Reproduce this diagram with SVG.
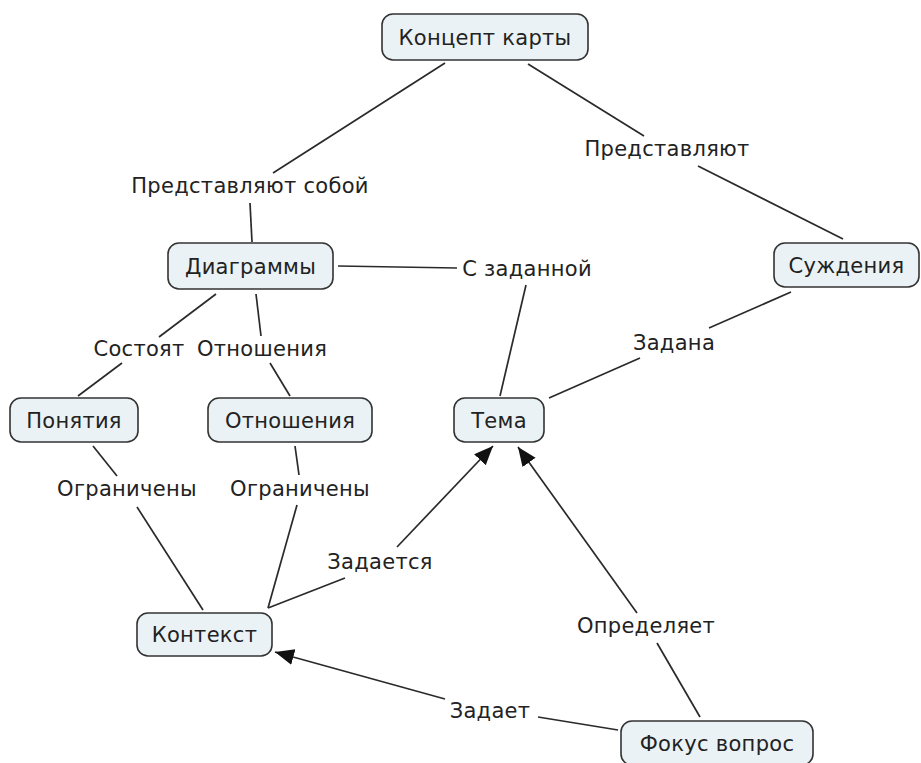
<svg xmlns="http://www.w3.org/2000/svg" width="921" height="763" viewBox="0 0 921 763">
<defs>
<style>
.node rect{fill:#ebf2f5;stroke:#333;stroke-width:1.6}
text{font-family:"DejaVu Sans","Liberation Sans",sans-serif;font-size:21px;letter-spacing:0.3px;fill:#222;text-anchor:middle}
.conn line{stroke:#2a2a2a;stroke-width:1.7}
.arrow{marker-end:url(#ah)}
</style>
<marker id="ah" markerUnits="userSpaceOnUse" markerWidth="22" markerHeight="18" refX="19" refY="8" orient="auto">
<path d="M0,0 L19,8 L0,16 z" fill="#111"/>
</marker>
</defs>
<rect width="921" height="763" fill="#fff"/>
<g id="connectors" class="conn">
<line x1="445" y1="63" x2="273" y2="173"/>
<line x1="250" y1="203" x2="252" y2="242"/>
<line x1="528" y1="64" x2="644" y2="136"/>
<line x1="698" y1="166" x2="843" y2="239"/>
<line x1="338" y1="266" x2="457" y2="268"/>
<line x1="526" y1="285" x2="500" y2="396"/>
<line x1="791" y1="292" x2="709" y2="328"/>
<line x1="640" y1="358" x2="549" y2="398"/>
<line x1="216" y1="294" x2="159" y2="337"/>
<line x1="122" y1="363" x2="78" y2="396"/>
<line x1="256" y1="294" x2="261" y2="336"/>
<line x1="270" y1="363" x2="290" y2="396"/>
<line x1="93" y1="446" x2="117" y2="476"/>
<line x1="137" y1="507" x2="203" y2="610"/>
<line x1="295" y1="446" x2="299" y2="475"/>
<line x1="297" y1="505" x2="268" y2="608"/>
<line x1="268" y1="608" x2="345" y2="578"/>
<line class="arrow" x1="397" y1="547" x2="493" y2="446"/>
<line x1="700" y1="717" x2="657" y2="643"/>
<line class="arrow" x1="637" y1="613" x2="518" y2="447"/>
<line x1="618" y1="730" x2="538" y2="717"/>
<line class="arrow" x1="445" y1="699" x2="275" y2="652"/>
</g>
<g id="labels">
<text x="250" y="193">Представляют собой</text>
<text x="667" y="156">Представляют</text>
<text x="527" y="276">С заданной</text>
<text x="139" y="356">Состоят</text>
<text x="262" y="356">Отношения</text>
<text x="674" y="350">Задана</text>
<text x="127" y="496">Ограничены</text>
<text x="300" y="496">Ограничены</text>
<text x="380" y="569">Задается</text>
<text x="646" y="633">Определяет</text>
<text x="490" y="718">Задает</text>
</g>
<g id="n1" class="node"><rect x="382" y="14" width="206" height="46" rx="11"/><text x="485" y="45">Концепт карты</text></g>
<g id="n2" class="node"><rect x="168" y="243" width="165" height="46" rx="11"/><text x="250.5" y="274">Диаграммы</text></g>
<g id="n3" class="node"><rect x="774" y="243" width="145" height="44" rx="11"/><text x="846.5" y="273">Суждения</text></g>
<g id="n4" class="node"><rect x="10" y="398" width="128" height="44" rx="11"/><text x="74" y="428">Понятия</text></g>
<g id="n5" class="node"><rect x="208" y="398" width="164" height="44" rx="11"/><text x="290" y="428">Отношения</text></g>
<g id="n6" class="node"><rect x="454" y="398" width="90" height="44" rx="11"/><text x="499" y="428">Тема</text></g>
<g id="n7" class="node"><rect x="137" y="613" width="135" height="43" rx="11"/><text x="204.5" y="642">Контекст</text></g>
<g id="n8" class="node"><rect x="621" y="721" width="192" height="44" rx="11"/><text x="717" y="751">Фокус вопрос</text></g>
</svg>
